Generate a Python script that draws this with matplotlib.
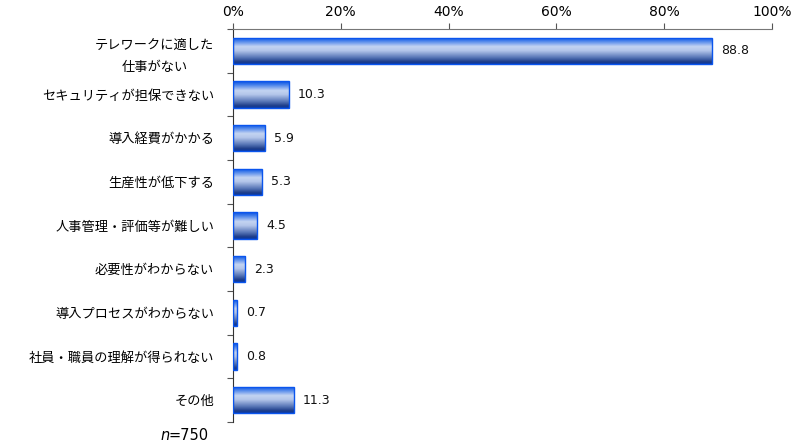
import matplotlib
matplotlib.use("Agg")
import matplotlib.pyplot as plt
import numpy as np
from matplotlib.colors import LinearSegmentedColormap

plt.rcParams['font.family'] = ['Noto Sans CJK JP', 'DejaVu Sans']

categories = ["テレワークに適した\n仕事がない", "セキュリティが担保できない", "導入経費がかかる",
              "生産性が低下する", "人事管理・評価等が難しい", "必要性がわからない",
              "導入プロセスがわからない", "社員・職員の理解が得られない", "その他"]
values = [88.8, 10.3, 5.9, 5.3, 4.5, 2.3, 0.7, 0.8, 11.3]
xticks = [0, 20, 40, 60, 80, 100]
note = "=750"

fig = plt.figure(figsize=(7.95, 4.43), dpi=100)
ax = fig.add_axes([233/795, 1-422/443, (772-233)/795, (422-29)/443])

n = len(categories)
y = np.arange(n)
bars = ax.barh(y, values, height=0.6, color='none', edgecolor='#0a55ee', linewidth=1.0, zorder=3)

cmap = LinearSegmentedColormap.from_list('g', [
    (0.0, '#0a4fe0'), (0.12, '#3a78ea'), (0.35, '#c4d4f2'), (0.5, '#b4c6ea'),
    (0.75, '#5a78b8'), (0.92, '#1c3c88'), (1.0, '#0a3aa8')])
grad = np.linspace(0, 1, 256).reshape(-1, 1)
for b in bars:
    x0, y0 = b.get_x(), b.get_y()
    w, h = b.get_width(), b.get_height()
    im = ax.imshow(grad, cmap=cmap, aspect='auto', extent=(x0, x0 + w, y0 + h, y0),
                   origin='upper', zorder=2, interpolation='bilinear')
    im.set_clip_path(b)

for yi, v in zip(y, values):
    ax.text(v + 1.7, yi, f"{v:.1f}", va='center', ha='left', fontsize=9,
            family='DejaVu Sans', color='#111111')

ax.set_xlim(0, 100)
ax.set_ylim(n - 0.5, -0.5)
ax.xaxis.tick_top()
ax.set_xticks(xticks)
ax.set_xticklabels([f"{t}%" for t in xticks], family='DejaVu Sans', fontsize=10)
ax.tick_params(axis='x', length=4, color='#555555', pad=3)

ax.set_yticks(np.arange(n + 1) - 0.5, minor=False)
ax.set_yticklabels([])
ax.set_yticks(y, minor=True)
labels = ax.set_yticklabels(categories, minor=True, fontsize=9.5, linespacing=1.9)
for lb in labels:
    lb.set_multialignment('center')
ax.tick_params(axis='y', which='major', length=4, color='#555555')
ax.tick_params(axis='y', which='minor', length=0, pad=13.5)

for s in ['right', 'bottom']:
    ax.spines[s].set_visible(False)
ax.spines['top'].set_color('#777777')
ax.spines['left'].set_color('#333333')

fig.text(160/795, 1-436/443, "n", style='italic', fontsize=10.5, family='DejaVu Sans', va='center', ha='left')
fig.text(169/795, 1-436/443, note, fontsize=10.5, family='DejaVu Sans', va='center', ha='left')

fig.savefig("out.png", dpi=100)
